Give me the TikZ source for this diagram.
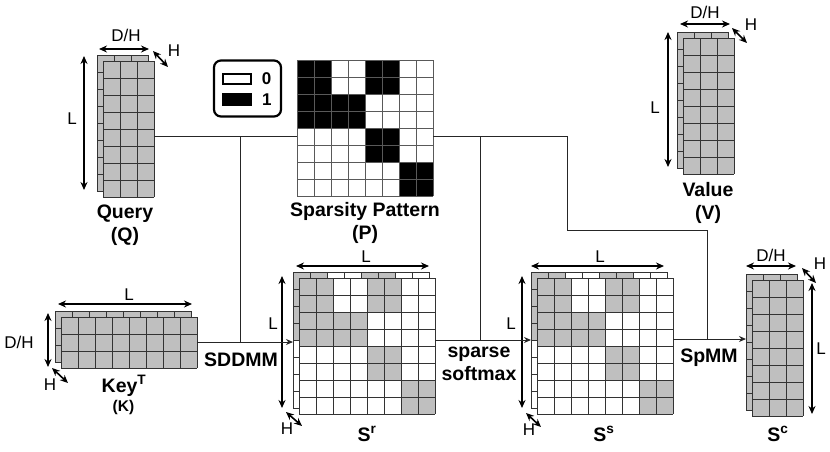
\documentclass[tikz,border=0pt]{standalone}
\usepackage{fontspec}
\setmainfont{Liberation Sans}
\usetikzlibrary{arrows.meta,positioning}

\colorlet{cellgray}{black!25}
% grid lines of a cols x rows block, top left corner at (x,y)
\newcommand{\cells}[5][black!80]{%
  \foreach \ci in {0,...,#4}{\draw[draw=#1, line width=0.8pt] (#2+\ci*17,#3) -- ++(0,#5*17);}
  \foreach \cj in {0,...,#5}{\draw[draw=#1, line width=0.8pt] (#2,#3+\cj*17) -- ++(#4*17,0);}
}
% the 2x2 blocks of the sparsity pattern
\newcommand{\blocks}[3]{%
  \foreach \bx/\by in {0/0,2/0,0/1,1/1,2/2,3/3}
    {\fill[#3] (#1+\bx*34,#2+\by*34) rectangle ++(34,34);}
}
% two stacked dense heads
\newcommand{\densestack}[5]{%
  \fill[cellgray] (#2-6,#3-6) rectangle ++(#4*17,#5*17);
  \cells{#2-6}{#3-6}{#4}{#5}
  \fill[cellgray] (#2,#3) rectangle ++(#4*17,#5*17);
  \cells{#2}{#3}{#4}{#5}
  \node[stk, minimum width=#4*17+6, minimum height=#5*17+6] (#1) at (#2-6,#3-6) {};
}
% two stacked sparse 8x8 heads
\newcommand{\sparsestack}[3]{%
  \fill[white] (#2-6,#3-6) rectangle ++(136,136);
  \blocks{#2-6}{#3-6}{cellgray}
  \cells{#2-6}{#3-6}{8}{8}
  \fill[white] (#2,#3) rectangle ++(136,136);
  \blocks{#2}{#3}{cellgray}
  \cells{#2}{#3}{8}{8}
  \node[stk, minimum size=142] (#1) at (#2-6,#3-6) {};
}

\begin{document}
\begin{tikzpicture}[
  x=1pt, y=-1pt,
  every node/.style={font=\fontsize{17}{20}\selectfont, inner sep=0pt},
  bl/.style={font=\bfseries\fontsize{19.5}{23}\selectfont, anchor=base},
  stk/.style={inner sep=0pt, anchor=north west},
  dimar/.style={{Stealth[length=8pt,width=7pt]}-{Stealth[length=8pt,width=7pt]},
                line width=1.6pt},
  wire/.style={line width=1pt, draw=black!85},
  ar/.style={wire, -{Stealth[length=7pt,width=6pt]}}
]
\useasboundingbox (0,0) rectangle (830,451);

% matrices
\densestack{Q}{103}{61}{3}{8}
\densestack{V}{683}{38}{3}{8}
\densestack{K}{61}{317}{8}{3}
\densestack{Sc}{752}{280}{3}{8}
\sparsestack{Sr}{299}{278}
\sparsestack{Ss}{537}{278}

% sparsity pattern
\fill[white] (297,60) rectangle ++(136,136);
\blocks{297}{60}{black}
\cells[black!65]{297}{60}{8}{8}
\node[stk, minimum size=136] (P) at (297,60) {};

% legend
\node[draw, line width=2.2pt, rounded corners=7pt, minimum width=67,
      minimum height=56] (leg) at (247.5,88.5) {};
\node[draw, line width=2pt, fill=white, minimum width=28, minimum height=10.3]
      (sw0) at (236.7,78.8) {};
\node[fill=black, minimum width=30, minimum height=13.3] (sw1) at (236.7,99.3) {};
\node[font=\bfseries\fontsize{17}{20}\selectfont, right=10pt of sw0] (t0) {0};
\node[font=\bfseries\fontsize{17}{20}\selectfont, right=10pt of sw1] (t1) {1};

% dimensions
\draw[dimar] (99,49) -- (149,49);
\draw[dimar] (153,51) -- (168,67);
\draw[dimar] (84,56) -- (84,190);
\node (qdh) at (126,35) {D/H};
\node (qh) at (174,51) {H};
\node (ql) at (72,119) {L};

\draw[dimar] (680,24) -- (730,24);
\draw[dimar] (732,28) -- (747,43);
\draw[dimar] (668,32) -- (668,167);
\node (vdh) at (705,12) {D/H};
\node (vh) at (751,25) {H};
\node (vl) at (655,108) {L};

\draw[dimar] (58,304) -- (192,304);
\draw[dimar] (48,313) -- (48,367);
\draw[dimar] (52,368) -- (68,383);
\node (kl) at (129,295) {L};
\node (kdh) at (19,342) {D/H};
\node (kh) at (50,385) {H};

\draw[dimar] (296,266) -- (429,266);
\draw[dimar] (282,276) -- (282,408);
\draw[dimar] (286,412) -- (302,426);
\node (rl1) at (366,257) {L};
\node (rl2) at (273,324) {L};
\node (rh) at (287,429) {H};

\draw[dimar] (531,266) -- (664,266);
\draw[dimar] (522,276) -- (522,408);
\draw[dimar] (526,413) -- (541,427);
\node (sl1) at (600,257) {L};
\node (sl2) at (511,324) {L};
\node (sh) at (529,430) {H};

\draw[dimar] (746,266) -- (796,266);
\draw[dimar] (802,268) -- (816,283);
\draw[dimar] (812,283) -- (812,414);
\node (cdh) at (771,255) {D/H};
\node (ch) at (820,264) {H};
\node (cl) at (821,349) {L};

% names
\node[bl] (qname) at (125,218) {Query};
\node[bl] (qtag) at ([yshift=-23pt]qname.base) {(Q)};
\node[bl] (vname) at (708,196) {Value};
\node[bl] (vtag) at ([yshift=-23pt]vname.base) {(V)};
\node[bl] (pname) at (365,216.5) {Sparsity Pattern};
\node[bl] (ptag) at ([yshift=-23pt]pname.base) {(P)};
\node[bl] (kname) at (124,392.5) {Key\textsuperscript{T}};
\node[bl, font=\bfseries\fontsize{15.5}{18}\selectfont] (ktag) at (123.5,411) {(K)};
\node[bl] (rname) at (367,441) {S\textsuperscript{r}};
\node[bl] (sname) at (604,441) {S\textsuperscript{s}};
\node[bl] (cname) at (778,441) {S\textsuperscript{c}};

% operations
\node[bl] (sddmm) at (241,366) {SDDMM};
\node[bl] (smx1) at (479,357) {sparse};
\node[bl] (smx2) at (479,380) {softmax};
\node[bl] (spmm) at (709,362) {SpMM};

% wiring
\coordinate (jA) at (240,136);
\coordinate (jB) at (480,136);
\coordinate (jC) at (567,136);
\coordinate (jD) at (567,230);
\coordinate (jE) at (707,230);
\coordinate (lv1) at (0,342);
\coordinate (lv2) at (0,340);
\coordinate (lv3) at (0,339);

\draw[wire] (Q.east |- jA) -- (P.west |- jA);
\draw[wire] (P.east |- jA) -- (jC) -- (jD) -- (jE) -- (jE |- lv3);
\draw[wire] (jA) -- (jA |- lv1);
\draw[wire] (jB) -- (jB |- lv2);
\draw[ar] (K.east |- lv1) -- (Sr.west |- lv1);
\draw[ar] (Sr.east |- lv2) -- (Ss.west |- lv2);
\draw[ar] (Ss.east |- lv3) -- (Sc.west |- lv3);
\end{tikzpicture}
\end{document}
